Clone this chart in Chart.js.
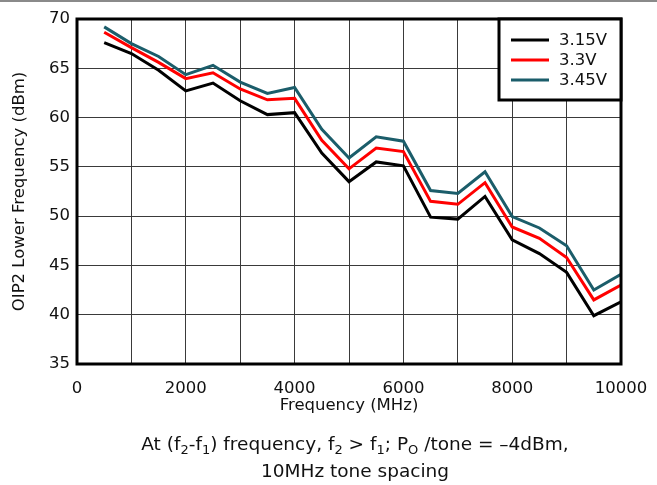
<!DOCTYPE html>
<html>
<head>
<meta charset="utf-8">
<script src="https://cdn.jsdelivr.net/npm/chart.js@4/dist/chart.umd.min.js"></script>
<style>
  body { margin: 0; background: #fff; }
  #wrap { position: relative; width: 657px; height: 485px; overflow: hidden; }
  #topbar { position: absolute; left: 0; top: 0; width: 657px; height: 2px; background: #8a8a8a; }
  #chart { position: absolute; left: 0; top: 0; }
  .cap { position: absolute; left: 0; width: 710px; text-align: center;
         font-family: "DejaVu Sans", sans-serif; font-size: 18.5px; color: #111; }
  .cap sub { font-size: 13px; vertical-align: -4px; line-height: 0; }
</style>
</head>
<body>
<div id="wrap">
  <canvas id="chart" width="657" height="485"></canvas>
  <div id="topbar"></div>
  <div class="cap" style="top:433px">At (f<sub>2</sub>-f<sub>1</sub>) frequency, f<sub>2</sub> &gt; f<sub>1</sub>; P<sub>O</sub> /tone = &ndash;4dBm,</div>
  <div class="cap" style="top:460px">10MHz tone spacing</div>
</div>
<script>
// frequency points (MHz)
const freqs = [500, 1000, 1500, 2000, 2500, 3000, 3500, 4000, 4500, 5000,
               5500, 6000, 6500, 7000, 7500, 8000, 8500, 9000, 9500, 10000];

// OIP2 lower frequency (dBm) per supply
const v315 = [67.6, 66.5, 64.8, 62.7, 63.5, 61.7, 60.3, 60.5, 56.4, 53.5,
              55.5, 55.1, 49.9, 49.7, 52.0, 47.6, 46.2, 44.3, 39.9, 41.3];
const v330 = [68.65, 67.1, 65.6, 63.95, 64.55, 62.9, 61.8, 61.95, 57.7, 54.8,
              56.9, 56.55, 51.5, 51.2, 53.4, 48.9, 47.75, 45.8, 41.5, 43.0];
const v345 = [69.2, 67.5, 66.2, 64.35, 65.3, 63.6, 62.45, 63.05, 58.8, 55.9,
              58.05, 57.6, 52.6, 52.3, 54.5, 49.95, 48.8, 47.0, 42.5, 44.1];

const seriesLabels = ['3.15V', '3.3V', '3.45V'];
const seriesColors = ['#000000', '#ff0000', '#1b5d6a'];

const xMin = 0, xMax = 10000, xStep = 1000, xLabelStep = 2000;
const yMin = 35, yMax = 70, yStep = 5;

const FONT = '"DejaVu Sans", sans-serif';
const FSIZE = 16.5;

function pts(vals) {
  return freqs.map((f, i) => ({ x: f, y: vals[i] }));
}

// thick frame round the plot area
const framePlugin = {
  id: 'frame',
  afterDatasetsDraw(chart) {
    const { ctx, chartArea: a } = chart;
    ctx.save();
    ctx.strokeStyle = '#000';
    ctx.lineWidth = 3;
    ctx.strokeRect(a.left, a.top, a.right - a.left, a.bottom - a.top);
    ctx.restore();
  }
};

// boxed legend in the top-right corner of the plot
const boxLegend = {
  id: 'boxLegend',
  afterDraw(chart) {
    const { ctx, chartArea: a } = chart;
    const w = 122, h = 81;
    const x0 = a.right - w, y0 = a.top;
    ctx.save();
    ctx.fillStyle = '#fff';
    ctx.fillRect(x0, y0, w, h);
    ctx.strokeStyle = '#000';
    ctx.lineWidth = 3;
    ctx.strokeRect(x0, y0, w, h);
    ctx.font = FSIZE + 'px ' + FONT;
    ctx.textBaseline = 'middle';
    chart.data.datasets.forEach((ds, i) => {
      const y = y0 + 21 + i * 20;
      ctx.strokeStyle = ds.borderColor;
      ctx.lineWidth = 3;
      ctx.beginPath();
      ctx.moveTo(x0 + 12, y);
      ctx.lineTo(x0 + 50, y);
      ctx.stroke();
      ctx.fillStyle = '#111';
      ctx.fillText(ds.label, x0 + 60, y + 1);
    });
    ctx.restore();
  }
};

new Chart(document.getElementById('chart'), {
  type: 'line',
  data: {
    datasets: [v315, v330, v345].map((vals, i) => ({
      label: seriesLabels[i],
      data: pts(vals),
      borderColor: seriesColors[i],
      backgroundColor: seriesColors[i],
      borderWidth: 3,
      pointRadius: 0,
      tension: 0
    }))
  },
  options: {
    responsive: false,
    animation: false,
    layout: { padding: { left: 10, top: 19, right: 36, bottom: 69 } },
    plugins: {
      legend: { display: false },
      tooltip: { enabled: false }
    },
    scales: {
      x: {
        type: 'linear',
        min: xMin,
        max: xMax,
        ticks: {
          stepSize: xStep,
          autoSkip: false,
          maxRotation: 0,
          padding: 15,
          color: '#111',
          font: { family: FONT, size: FSIZE },
          callback: v => (v % xLabelStep === 0 ? String(v) : '')
        },
        grid: { color: '#3a3a3a', lineWidth: 1, drawTicks: false },
        border: { display: false },
        title: {
          display: true,
          text: 'Frequency (MHz)',
          color: '#111',
          font: { family: FONT, size: FSIZE },
          padding: { top: 0, bottom: 0 }
        },
        afterFit: s => { s.height = 52; s.paddingLeft = 0; s.paddingRight = 0; }
      },
      y: {
        min: yMin,
        max: yMax,
        ticks: {
          stepSize: yStep,
          padding: 7,
          color: '#111',
          font: { family: FONT, size: FSIZE }
        },
        grid: { color: '#3a3a3a', lineWidth: 1, drawTicks: false },
        border: { display: false },
        title: {
          display: true,
          text: 'OIP2 Lower Frequency (dBm)',
          color: '#111',
          font: { family: FONT, size: FSIZE },
          padding: { top: 0, bottom: 6 }
        },
        afterFit: s => { s.width = 67; s.paddingTop = 0; s.paddingBottom = 0; }
      }
    }
  },
  plugins: [framePlugin, boxLegend]
});
</script>
</body>
</html>
